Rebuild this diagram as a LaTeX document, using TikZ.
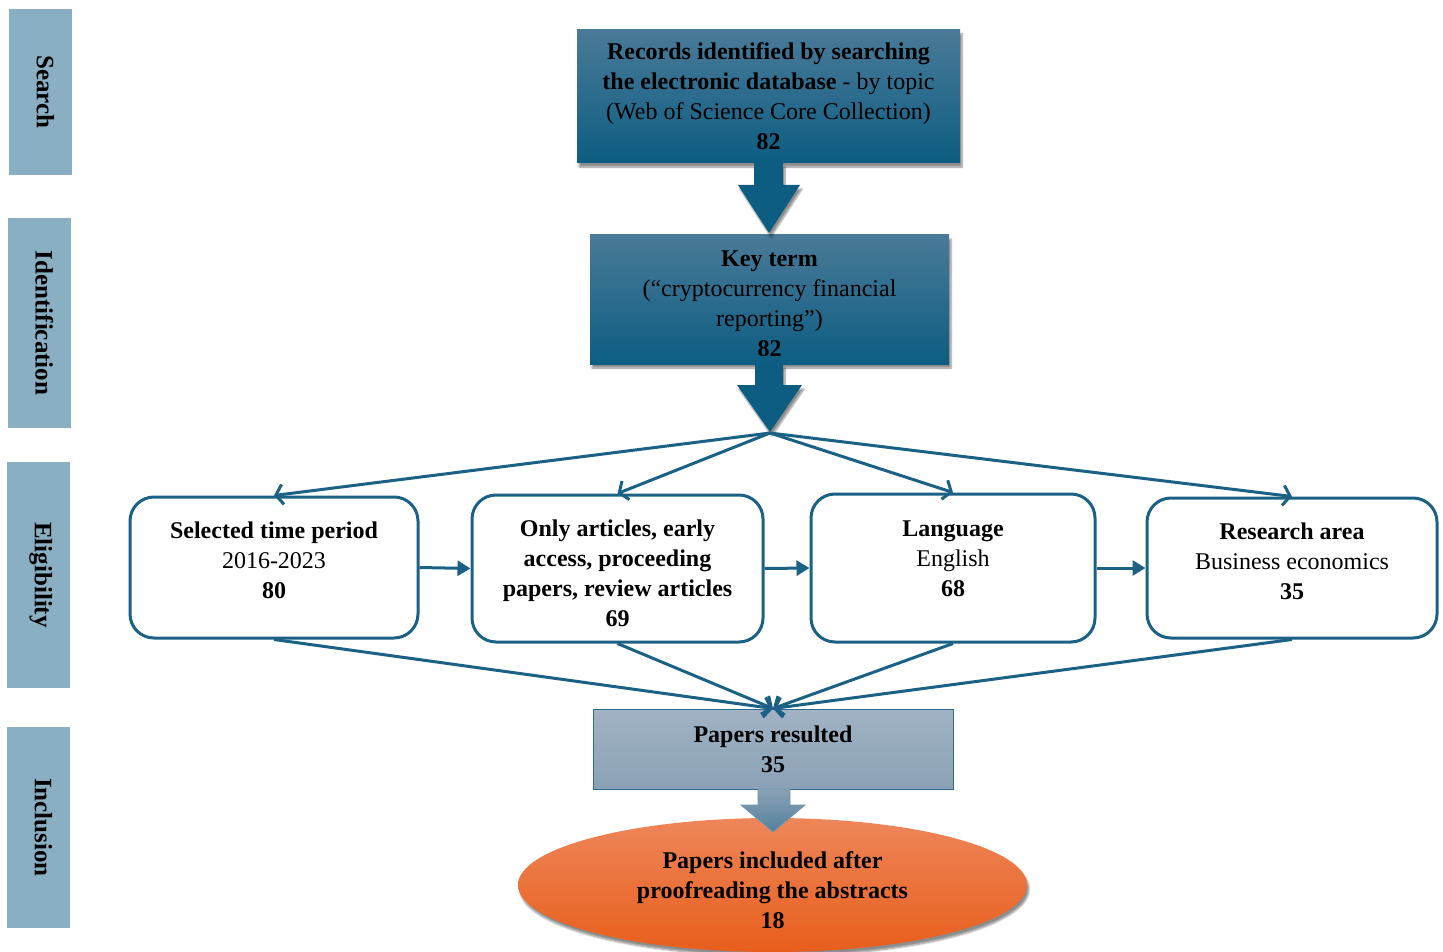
\documentclass[tikz,border=0pt]{standalone}
\usepackage{fontspec}
\setmainfont{Liberation Serif}
\usetikzlibrary{arrows.meta, calc, shapes.geometric, shadows.blur}

\definecolor{stageblue}{RGB}{138,175,194}
\definecolor{deepteal}{RGB}{13,93,130}
\definecolor{topteal}{RGB}{74,122,152}
\definecolor{linkblue}{RGB}{27,97,133}
\definecolor{greytop}{RGB}{161,179,196}
\definecolor{greybot}{RGB}{138,161,181}
\definecolor{greyedge}{RGB}{46,107,140}
\definecolor{orangetop}{RGB}{238,134,90}
\definecolor{orangebot}{RGB}{232,94,28}

\tikzset{
  stage/.style={fill=stageblue, rotate=-90, inner sep=0pt, text depth=10pt,
    font=\fontsize{25}{30}\selectfont\bfseries},
  softshadow/.style={blur shadow={shadow xshift=2pt, shadow yshift=-4pt,
    shadow blur steps=6, shadow opacity=45}},
  searchbox/.style={top color=topteal, bottom color=deepteal, align=center,
    inner sep=0pt, softshadow},
  filterbox/.style={draw=linkblue, line width=3pt, rounded corners=24pt,
    fill=white, align=center, inner sep=0pt},
  fanlink/.style={draw=linkblue, line width=3pt,
    -{Straight Barb[length=7pt, width=20pt]}},
  passlink/.style={draw=linkblue, line width=3pt,
    -{Triangle[length=13pt, width=15pt]}},
}

\begin{document}
\begin{tikzpicture}[x=1pt, y=-1pt, font=\fontsize{24}{30}\selectfont]

    \useasboundingbox (0,0) rectangle (1443,952);

    % Stage labels on the left
    \node[stage, minimum width=166pt, minimum height=63pt] (search) at (40.5,92)    {Search};
    \node[stage, minimum width=210pt, minimum height=63pt] (ident)  at (39.5,323)   {Identification};
    \node[stage, minimum width=226pt, minimum height=63pt] (elig)   at (38.5,575)   {Eligibility};
    \node[stage, minimum width=201pt, minimum height=63pt] (incl)   at (38.5,827.5) {Inclusion};

    % Search and identification
    \node[searchbox, minimum width=383pt, minimum height=133pt] (rec) at (768.5,96.5)
        {\textbf{Records identified by searching}\\
         \textbf{the electronic database} - by topic\\
         (Web of Science Core Collection)\\
         \textbf{82}};
    \node[searchbox, minimum width=359pt, minimum height=129pt, text height=115pt] (key) at (769.5,299.5)
        {\textbf{Key term}\\
         (“cryptocurrency financial\\
         reporting”)\\
         \textbf{82}};

    % Block arrows
    \fill[deepteal, softshadow] (754,163) -- (783,163) -- (783,185) -- (800,185)
        -- (769,233) -- (738,185) -- (754,185) -- cycle;
    \fill[deepteal, softshadow] (755,364) -- (783,364) -- (783,385) -- (802,385)
        -- (770,432) -- (737,385) -- (755,385) -- cycle;
    \coordinate (fork) at (770,433);

    % Eligibility filters
    \node[filterbox, minimum width=288pt, minimum height=141pt, text depth=14pt] (period) at (274,567.5)
        {\textbf{Selected time period}\\ 2016-2023\\ \textbf{80}};
    \node[filterbox, minimum width=291pt, minimum height=147pt, text height=117pt] (doctype) at (617.5,568.5)
        {\textbf{Only articles, early}\\ \textbf{access, proceeding}\\
         \textbf{papers, review articles}\\ \textbf{69}};
    \node[filterbox, minimum width=284pt, minimum height=148pt, text depth=18pt] (lang) at (953,568)
        {\textbf{Language}\\ English\\ \textbf{68}};
    \node[filterbox, minimum width=290pt, minimum height=140pt, text depth=14pt] (area) at (1292,568)
        {\textbf{Research area}\\ Business economics\\ \textbf{35}};

    \foreach \f in {period, doctype, lang, area}
        \draw[fanlink] (fork) -- (\f.north);

    \draw[passlink] (period.east) -- (doctype.west);
    \draw[passlink] (doctype.east) -- (lang.west);
    \draw[passlink] (lang.east) -- (area.west);

    % Inclusion
    \node[ellipse, top color=orangetop, bottom color=orangebot, softshadow,
        minimum width=509pt, minimum height=134pt, inner sep=0pt, align=center,
        text height=87pt, font=\fontsize{24}{30}\selectfont\bfseries] (final) at (772.5,885)
        {Papers included after\\ proofreading the abstracts\\ 18};

    \node[draw=greyedge, line width=1pt, top color=greytop, bottom color=greybot,
        minimum width=360pt, minimum height=80pt, inner sep=0pt, align=center,
        font=\fontsize{24}{30}\selectfont\bfseries] (result) at (773,749)
        {Papers resulted\\ 35};

    \shade[top color=greybot, bottom color=greyedge!60!greybot, draw=greyedge!70, line width=0.8pt]
        (758,789) -- (790,789) -- (790,805) -- (805,805)
        -- (773,832) -- (741,805) -- (758,805) -- cycle;

    \foreach \f in {period, doctype, lang, area}
        \draw[fanlink] (\f.south) -- (result.north);

\end{tikzpicture}
\end{document}
